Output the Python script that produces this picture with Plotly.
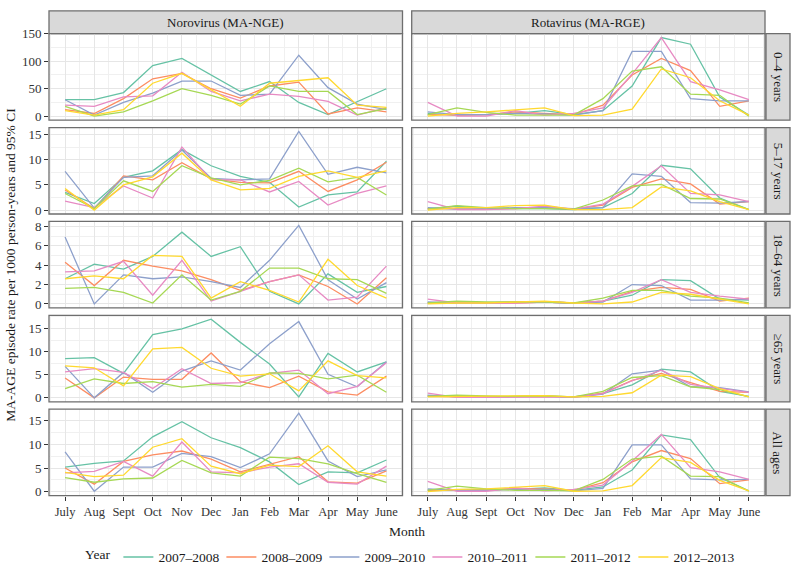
import plotly.graph_objects as go

MONTHS = ["July", "Aug", "Sept", "Oct", "Nov", "Dec", "Jan", "Feb", "Mar", "Apr", "May", "June"]
YEARS = ["2007–2008", "2008–2009", "2009–2010", "2010–2011", "2011–2012", "2012–2013"]
COLORS = ["#66C2A5", "#FC8D62", "#8DA0CB", "#E78AC3", "#A6D854", "#FFD92F"]
VIRUSES = ["Norovirus (MA-NGE)", "Rotavirus (MA-RGE)"]
AGES = ["0–4 years", "5–17 years", "18–64 years", "≥65 years", "All ages"]

# Norovirus, one list per season (order as YEARS)
noro_0_4 = [
    [30, 30, 43, 92, 105, 75, 45, 63, 25, 3, 27, 50],
    [12, 5, 32, 68, 78, 50, 33, 55, 62, 4, 15, 8],
    [30, 2, 25, 42, 64, 64, 38, 40, 111, 52, 22, 12],
    [20, 18, 35, 37, 80, 45, 28, 40, 36, 27, 2, 15],
    [18, 0, 8, 28, 50, 38, 22, 55, 45, 45, 3, 14],
    [10, 2, 12, 60, 78, 48, 18, 60, 65, 70, 20, 16],
]
noro_5_17 = [
    [3.5, 1.3, 6.5, 7.8, 12.0, 8.8, 6.7, 5.5, 0.6, 3.0, 3.6, 9.7],
    [4.0, 0.3, 6.8, 6.0, 9.4, 6.2, 5.5, 5.4, 7.7, 3.7, 6.0, 9.5],
    [7.7, 0.4, 6.5, 6.8, 11.9, 6.3, 6.0, 6.2, 15.6, 7.1, 8.5, 7.4],
    [1.8, 0.5, 4.8, 2.4, 12.5, 6.0, 6.0, 3.6, 5.7, 1.0, 3.3, 4.8],
    [3.3, 0.3, 5.8, 3.7, 8.8, 6.4, 5.0, 5.9, 8.3, 5.6, 6.5, 3.0],
    [4.3, 0.0, 5.0, 6.6, 11.3, 6.0, 4.0, 4.3, 6.7, 7.8, 6.5, 7.8],
]
noro_18_64 = [
    [2.6, 4.1, 3.6, 4.9, 7.4, 4.9, 5.9, 1.3, 0.0, 3.1, 1.2, 1.8],
    [4.3, 1.9, 4.5, 3.9, 3.4, 2.5, 1.4, 2.3, 3.0, 1.8, 0.0, 2.7],
    [6.9, 0.0, 3.0, 2.6, 2.8, 2.3, 1.7, 4.5, 8.1, 2.5, 0.5, 2.2],
    [3.3, 3.4, 4.4, 0.9, 4.5, 0.3, 1.3, 2.3, 3.0, 0.4, 0.7, 3.9],
    [1.6, 1.7, 1.2, 0.1, 3.0, 0.4, 1.3, 3.7, 3.7, 2.6, 2.5, 1.1],
    [2.6, 2.9, 2.6, 5.0, 4.9, 0.6, 2.3, 1.4, 0.2, 4.6, 1.9, 0.6],
]
noro_65 = [
    [8.5, 8.7, 5.3, 13.7, 14.9, 17.0, 12.0, 7.3, 0.2, 9.6, 5.6, 7.8],
    [4.3, 0.0, 4.5, 4.0, 4.0, 9.7, 3.5, 2.2, 4.7, 1.3, 0.6, 4.7],
    [6.8, 0.0, 5.5, 1.2, 5.8, 8.0, 6.0, 11.7, 16.5, 5.1, 2.4, 7.8],
    [5.6, 6.3, 5.5, 2.0, 6.3, 3.1, 3.3, 5.3, 6.0, 0.9, 2.5, 7.6],
    [2.0, 4.1, 3.1, 3.5, 2.3, 2.9, 2.5, 5.4, 5.3, 4.1, 4.9, 1.2],
    [6.9, 6.5, 2.6, 10.6, 10.9, 6.4, 4.7, 5.2, 1.5, 8.0, 4.8, 4.3],
]
noro_all = [
    [5.2, 6.0, 6.5, 11.6, 14.8, 11.4, 9.3, 6.3, 1.5, 4.2, 4.0, 6.7],
    [5.0, 1.6, 6.4, 7.8, 8.6, 6.9, 4.2, 5.8, 7.4, 2.1, 1.8, 4.4],
    [8.4, 0.1, 5.2, 5.2, 8.1, 7.4, 5.1, 8.0, 16.6, 6.5, 3.2, 4.6],
    [4.0, 4.3, 6.4, 3.3, 10.5, 4.2, 4.0, 5.2, 5.9, 2.0, 1.6, 5.4],
    [3.0, 2.0, 2.7, 2.9, 6.6, 4.0, 3.3, 7.3, 7.0, 5.9, 3.8, 2.0],
    [4.1, 3.2, 3.5, 9.4, 11.2, 5.4, 3.8, 5.6, 5.3, 9.7, 4.2, 3.3],
]

# Rotavirus
rota_0_4 = [
    [5, 2, 3, 5, 10, 3, 10, 55, 143, 131, 35, 2],
    [3, 2, 3, 8, 5, 3, 20, 75, 105, 83, 18, 28],
    [8, 3, 3, 5, 4, 2, 10, 118, 118, 32, 28, 28],
    [25, 0, 0, 10, 2, 5, 15, 77, 143, 63, 48, 30],
    [3, 15, 7, 2, 2, 2, 32, 82, 90, 40, 38, 0],
    [0, 5, 8, 12, 15, 1, 2, 13, 86, 70, 28, 2],
]
rota_5_17 = [
    [0.3, 0.8, 0.3, 0.3, 0.3, 0.1, 0.5, 3.3, 8.9, 8.2, 2.4, 0.1],
    [0.3, 0.2, 0.2, 0.3, 0.5, 0.2, 1.0, 4.5, 6.2, 5.2, 1.2, 1.7],
    [0.5, 0.2, 0.3, 0.5, 0.5, 0.3, 0.5, 7.2, 6.7, 1.5, 1.4, 1.7],
    [1.7, 0.1, 0.1, 0.3, 0.8, 0.2, 1.2, 4.7, 8.8, 3.3, 3.0, 1.7],
    [0.2, 0.9, 0.5, 0.3, 0.3, 0.2, 2.0, 4.8, 5.1, 2.3, 2.2, 0.1],
    [0.0, 0.5, 0.5, 0.9, 1.0, 0.1, 0.1, 0.5, 4.6, 3.8, 1.7, 0.1],
]
rota_18_64 = [
    [0.1, 0.2, 0.1, 0.2, 0.2, 0.1, 0.3, 0.9, 2.5, 2.4, 0.5, 0.4],
    [0.1, 0.1, 0.1, 0.1, 0.2, 0.1, 0.3, 1.3, 1.7, 1.5, 0.3, 0.6],
    [0.2, 0.1, 0.1, 0.2, 0.2, 0.1, 0.2, 2.0, 1.9, 0.4, 0.4, 0.5],
    [0.5, 0.1, 0.1, 0.1, 0.2, 0.1, 0.3, 1.2, 2.5, 1.2, 0.8, 0.5],
    [0.1, 0.3, 0.2, 0.2, 0.2, 0.1, 0.6, 1.4, 1.4, 0.8, 0.6, 0.1],
    [0.0, 0.1, 0.1, 0.2, 0.3, 0.1, 0.0, 0.2, 1.2, 1.0, 0.5, 0.0],
]
rota_65 = [
    [0.5, 0.3, 0.2, 0.3, 0.4, 0.2, 0.9, 2.8, 6.2, 5.6, 1.4, 0.3],
    [0.4, 0.2, 0.2, 0.3, 0.3, 0.2, 1.0, 3.8, 5.3, 3.3, 1.4, 1.2],
    [0.6, 0.2, 0.2, 0.3, 0.3, 0.1, 0.8, 5.2, 6.0, 2.4, 2.2, 1.3],
    [1.0, 0.1, 0.1, 0.2, 0.2, 0.1, 0.9, 3.7, 6.0, 2.9, 2.1, 1.2],
    [0.3, 0.6, 0.4, 0.3, 0.4, 0.2, 1.4, 4.4, 4.8, 2.4, 1.8, 0.2],
    [0.2, 0.3, 0.3, 0.4, 0.5, 0.2, 0.3, 1.1, 4.9, 4.6, 2.0, 0.2],
]
rota_all = [
    [0.4, 0.5, 0.5, 0.5, 0.8, 0.3, 1.0, 4.6, 12.0, 11.0, 3.0, 0.2],
    [0.3, 0.3, 0.3, 0.7, 0.6, 0.3, 1.9, 6.3, 8.7, 7.0, 1.7, 2.5],
    [0.6, 0.3, 0.3, 0.5, 0.5, 0.2, 0.7, 9.9, 9.9, 2.7, 2.5, 2.6],
    [2.2, 0.1, 0.1, 0.8, 0.2, 0.5, 1.4, 6.5, 12.1, 5.1, 4.2, 2.6],
    [0.3, 1.2, 0.6, 0.3, 0.3, 0.2, 2.6, 6.9, 7.5, 3.3, 3.2, 0.1],
    [0.0, 0.5, 0.6, 1.0, 1.3, 0.1, 0.2, 1.3, 7.2, 6.2, 2.4, 0.2],
]

PANELS = [
    [noro_0_4, rota_0_4],
    [noro_5_17, rota_5_17],
    [noro_18_64, rota_18_64],
    [noro_65, rota_65],
    [noro_all, rota_all],
]
Y_DTICK = [50, 5, 2, 5, 5]

# ---- layout geometry (pixels) ----
W, H = 793, 573
COL_X = [(49, 402.5), (411.7, 765)]
TOP, BOTTOM, GAP = 27.3, 500, 7.6
PH = (BOTTOM - TOP - 4 * GAP) / 5
ROW_Y = [(TOP + r * (PH + GAP), TOP + r * (PH + GAP) + PH) for r in range(5)]
STRIP_TOP = 4
STRIP_R = (766, 790)

def px(x):
    return x / W

def py(y):
    return 1 - y / H

BORDER = "#6E6E6E"
STRIP_FILL = "#D9D9D9"
FONT = "Liberation Serif"
TXT = "#1A1A1A"

fig = go.Figure()
xs = list(range(1, 13))
layout = {}
shapes = []
annotations = []

for r in range(5):
    vals = [v for c in range(2) for s in PANELS[r][c] for v in s]
    lo, hi = min(vals), max(vals)
    pad = (hi - lo) * 0.05
    yrange = [lo - pad, hi + pad]
    dt = Y_DTICK[r]
    for c in range(2):
        idx = r * 2 + c + 1
        sfx = "" if idx == 1 else str(idx)
        for k, series in enumerate(PANELS[r][c]):
            fig.add_trace(go.Scatter(
                x=xs, y=series, mode="lines",
                line=dict(color=COLORS[k], width=1.3),
                name=YEARS[k], legendgroup=YEARS[k],
                showlegend=(idx == 1),
                xaxis="x" + sfx, yaxis="y" + sfx,
                hoverinfo="skip",
            ))
        bottom = (r == 4)
        layout["xaxis" + sfx] = dict(
            domain=[px(COL_X[c][0]), px(COL_X[c][1])],
            anchor="y" + sfx,
            range=[0.45, 12.55],
            tickmode="array", tickvals=xs, ticktext=MONTHS,
            showticklabels=bottom,
            ticks="outside" if bottom else "",
            ticklen=4, tickcolor="#333333", tickwidth=1,
            tickfont=dict(family=FONT, size=12.5, color="#333333"),
            showgrid=True, gridcolor="#E6E6E6", gridwidth=1,
            minor=dict(tickmode="array", tickvals=[x + 0.5 for x in range(0, 13)],
                       showgrid=True, gridcolor="#F0F0F0", gridwidth=1),
            zeroline=False, showline=False, fixedrange=True,
        )
        layout["yaxis" + sfx] = dict(
            domain=[py(ROW_Y[r][1]), py(ROW_Y[r][0])],
            anchor="x" + sfx,
            range=yrange,
            tick0=0, dtick=dt,
            showticklabels=(c == 0),
            ticks="outside" if c == 0 else "",
            ticklen=4, tickcolor="#333333", tickwidth=1,
            tickfont=dict(family=FONT, size=13, color="#333333"),
            showgrid=True, gridcolor="#E6E6E6", gridwidth=1,
            minor=dict(tick0=dt / 2, dtick=dt, showgrid=True, gridcolor="#F0F0F0", gridwidth=1),
            zeroline=False, showline=False, fixedrange=True,
        )
        # panel border
        shapes.append(dict(type="rect", xref="paper", yref="paper",
                           x0=px(COL_X[c][0]), x1=px(COL_X[c][1]),
                           y0=py(ROW_Y[r][1]), y1=py(ROW_Y[r][0]),
                           line=dict(color=BORDER, width=1.3), fillcolor="rgba(0,0,0,0)", layer="above"))
    # row strip
    shapes.append(dict(type="rect", xref="paper", yref="paper",
                       x0=px(STRIP_R[0]), x1=px(STRIP_R[1]),
                       y0=py(ROW_Y[r][1]), y1=py(ROW_Y[r][0]),
                       line=dict(color=BORDER, width=1.3), fillcolor=STRIP_FILL, layer="below"))
    annotations.append(dict(xref="paper", yref="paper",
                            x=px((STRIP_R[0] + STRIP_R[1]) / 2), y=py((ROW_Y[r][0] + ROW_Y[r][1]) / 2),
                            text=AGES[r], textangle=90, showarrow=False,
                            font=dict(family=FONT, size=13, color=TXT),
                            xanchor="center", yanchor="middle"))

# column strips
for c in range(2):
    shapes.append(dict(type="rect", xref="paper", yref="paper",
                       x0=px(COL_X[c][0]), x1=px(COL_X[c][1]),
                       y0=py(TOP), y1=py(STRIP_TOP),
                       line=dict(color=BORDER, width=1.3), fillcolor=STRIP_FILL, layer="below"))
    annotations.append(dict(xref="paper", yref="paper",
                            x=px((COL_X[c][0] + COL_X[c][1]) / 2), y=py((TOP + STRIP_TOP) / 2),
                            text=VIRUSES[c], showarrow=False,
                            font=dict(family=FONT, size=13, color=TXT),
                            xanchor="center", yanchor="middle"))

# axis titles
annotations.append(dict(xref="paper", yref="paper", x=px((COL_X[0][0] + COL_X[1][1]) / 2), y=py(537),
                        text="Month", showarrow=False, xanchor="center", yanchor="middle",
                        font=dict(family=FONT, size=13.5, color=TXT)))
annotations.append(dict(xref="paper", yref="paper", x=px(11), y=py((TOP + BOTTOM) / 2),
                        text="MA-AGE episode rate per 1000 person-years and 95% CI", textangle=-90,
                        showarrow=False, xanchor="center", yanchor="middle",
                        font=dict(family=FONT, size=13.5, color=TXT)))

fig.update_layout(
    width=W, height=H,
    margin=dict(l=0, r=0, t=0, b=0),
    paper_bgcolor="white", plot_bgcolor="white",
    shapes=shapes, annotations=annotations,
    showlegend=True,
    legend=dict(orientation="h", x=px(83), y=py(563), xanchor="left", yanchor="middle",
                title=dict(text="Year", side="left", font=dict(family=FONT, size=13.5, color=TXT)),
                font=dict(family=FONT, size=13.5, color=TXT),
                entrywidth=58, entrywidthmode="pixels",
                itemwidth=30, tracegroupgap=0, bgcolor="rgba(0,0,0,0)"),
    **layout,
)

fig.write_html("out.html", config={"displayModeBar": False},
               post_script="document.body.style.margin='0';document.body.style.overflow='hidden';")
